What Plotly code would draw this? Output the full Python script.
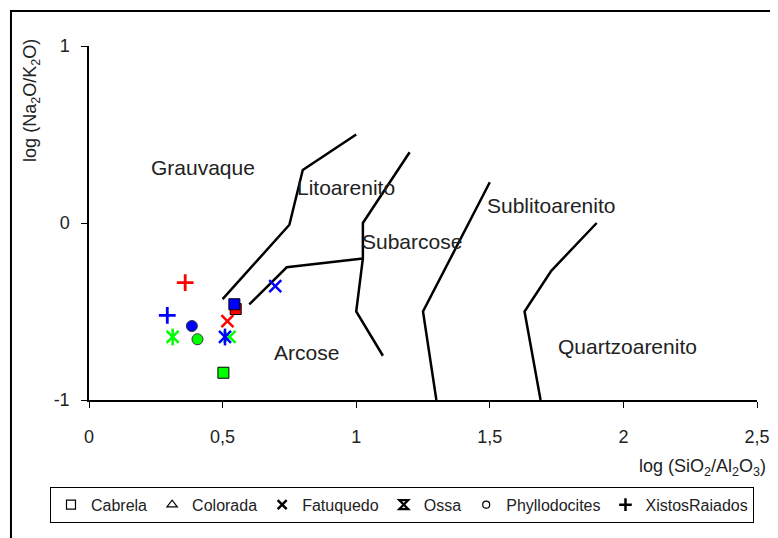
import plotly.graph_objects as go

RED, BLUE, GREEN = "#FF0000", "#0000FF", "#00FF00"

# ---- data (log SiO2/Al2O3 , log Na2O/K2O) ----
cabrela_x = [0.549, 0.544, 0.503]
cabrela_y = [-0.486, -0.459, -0.846]
cabrela_c = [RED, BLUE, GREEN]

colorada_x = []
colorada_y = []
colorada_c = []

fatuquedo_x = [0.518, 0.697, 0.526]
fatuquedo_y = [-0.554, -0.356, -0.644]
fatuquedo_c = [RED, BLUE, GREEN]

ossa_x = [0.313, 0.509]
ossa_y = [-0.644, -0.644]
ossa_c = [GREEN, BLUE]

phyllo_x = [0.385, 0.406]
phyllo_y = [-0.582, -0.657]
phyllo_c = [BLUE, GREEN]

xistos_x = [0.360, 0.293]
xistos_y = [-0.337, -0.522]
xistos_c = [RED, BLUE]

# field boundaries
line1_x = [0.50, 0.75, 0.80, 1.00]
line1_y = [-0.43, -0.01, 0.30, 0.50]
line2_x = [0.60, 0.74, 1.025]
line2_y = [-0.46, -0.25, -0.20]
line3_x = [1.20, 1.025, 1.025, 1.00, 1.10]
line3_y = [0.40, 0.00, -0.20, -0.50, -0.75]
line4_x = [1.50, 1.25, 1.30]
line4_y = [0.23, -0.50, -1.00]
line5_x = [1.90, 1.73, 1.63, 1.69]
line5_y = [0.00, -0.27, -0.50, -1.00]

field_names = ["Grauvaque", "Litoarenito", "Subarcose", "Sublitoarenito", "Arcose", "Quartzoarenito"]
field_x = [0.427, 0.963, 1.21, 1.73, 0.813, 2.015]
field_y = [0.311, 0.203, -0.107, 0.100, -0.734, -0.700]

x_ticks = [0, 0.5, 1, 1.5, 2, 2.5]
x_ticktext = ["0", "0,5", "1", "1,5", "2", "2,5"]
y_ticks = [-1, 0, 1]
y_ticktext = ["-1", "0", "1"]

FONT = "Liberation Sans, Arial, sans-serif"
TXT = "#222222"

fig = go.Figure()

for lx, ly in [(line1_x, line1_y), (line2_x, line2_y), (line3_x, line3_y),
               (line4_x, line4_y), (line5_x, line5_y)]:
    fig.add_trace(go.Scatter(x=lx, y=ly, mode="lines", showlegend=False,
                             line=dict(color="black", width=2.5), hoverinfo="skip"))

# data traces
fig.add_trace(go.Scatter(x=cabrela_x, y=cabrela_y, mode="markers", showlegend=False,
                         marker=dict(symbol="square", size=11, color=cabrela_c,
                                     line=dict(color="black", width=1))))
fig.add_trace(go.Scatter(x=colorada_x, y=colorada_y, mode="markers", showlegend=False,
                         marker=dict(symbol="triangle-up", size=11, color=colorada_c,
                                     line=dict(color="black", width=1))))
fig.add_trace(go.Scatter(x=fatuquedo_x, y=fatuquedo_y, mode="markers", showlegend=False,
                         marker=dict(symbol="x-thin-open", size=12, color=fatuquedo_c,
                                     line=dict(width=2.5))))
fig.add_trace(go.Scatter(x=ossa_x, y=ossa_y, mode="markers", showlegend=False,
                         marker=dict(symbol="x-thin-open", size=12, color=ossa_c,
                                     line=dict(width=2.5))))
fig.add_trace(go.Scatter(x=ossa_x, y=ossa_y, mode="markers", showlegend=False,
                         marker=dict(symbol="line-ns-open", size=12, color=ossa_c,
                                     line=dict(width=2.5))))
fig.add_trace(go.Scatter(x=phyllo_x, y=phyllo_y, mode="markers", showlegend=False,
                         marker=dict(symbol="circle", size=11, color=phyllo_c,
                                     line=dict(color="#333333", width=1))))
fig.add_trace(go.Scatter(x=xistos_x, y=xistos_y, mode="markers", showlegend=False,
                         marker=dict(symbol="cross-thin-open", size=12, color=xistos_c,
                                     line=dict(width=2.8))))

# legend-only entries (black symbols)
legend_entries = [
    ("Cabrela", "square-open", 1.2, 9),
    ("Colorada", "triangle-up-open", 1.2, 9),
    ("Fatuquedo", "x-thin-open", 2.5, 9),
    ("Ossa", "hourglass-open", 2.2, 9),
    ("Phyllodocites", "circle-open", 1.2, 7),
    ("XistosRaiados", "cross-thin-open", 2.5, 9),
]
for name, sym, lw, sz in legend_entries:
    fig.add_trace(go.Scatter(x=[None], y=[None], mode="markers", name=name,
                             marker=dict(symbol=sym, size=sz, color="black",
                                         line=dict(color="black", width=lw))))

for name, fx, fy in zip(field_names, field_x, field_y):
    fig.add_annotation(x=fx, y=fy, text=name, showarrow=False,
                       font=dict(family=FONT, size=21, color=TXT))

fig.add_annotation(xref="paper", yref="paper", x=1.0165, y=-0.19,
                   xanchor="right", yanchor="middle", showarrow=False,
                   text="log (SiO<sub>2</sub>/Al<sub>2</sub>O<sub>3</sub>)",
                   font=dict(family=FONT, size=18, color=TXT))
fig.add_annotation(xref="paper", yref="paper", x=-0.0853, y=0.845,
                   xanchor="center", yanchor="middle", showarrow=False, textangle=-90,
                   text="log (Na<sub>2</sub>O/K<sub>2</sub>O)",
                   font=dict(family=FONT, size=18, color=TXT))

# outer chart frame
fig.add_shape(type="rect", xref="paper", yref="paper",
              x0=-0.1168, y0=-0.5, x1=1.1, y1=1.0989,
              line=dict(color="black", width=2), layer="above")

# page body has an 8px default margin, so the figure is offset by (8, 8)
fig.update_layout(
    width=778, height=538,
    margin=dict(l=81, r=29, t=38, b=146, autoexpand=False),
    paper_bgcolor="white", plot_bgcolor="white",
    font=dict(family=FONT, size=16, color=TXT),
    showlegend=True,
    legend=dict(orientation="h", x=-0.0584, y=-0.245, xanchor="left", yanchor="top",
                bordercolor="black", borderwidth=1, bgcolor="white",
                font=dict(family=FONT, size=16, color=TXT),
                itemwidth=30, tracegroupgap=0),
    xaxis=dict(range=[0, 2.5], tickvals=x_ticks, ticktext=x_ticktext,
               showgrid=False, zeroline=False, showline=True, linecolor="black",
               linewidth=1.5, ticks="outside", ticklen=6, tickcolor="black",
               ticklabelstandoff=14, tickfont=dict(size=18)),
    yaxis=dict(range=[-1, 1], tickvals=y_ticks, ticktext=y_ticktext,
               showgrid=False, zeroline=False, showline=True, linecolor="black",
               linewidth=1.5, ticks="outside", ticklen=6, tickcolor="black",
               ticklabelstandoff=8, tickfont=dict(size=18)),
)

fig.write_html("out.html")
